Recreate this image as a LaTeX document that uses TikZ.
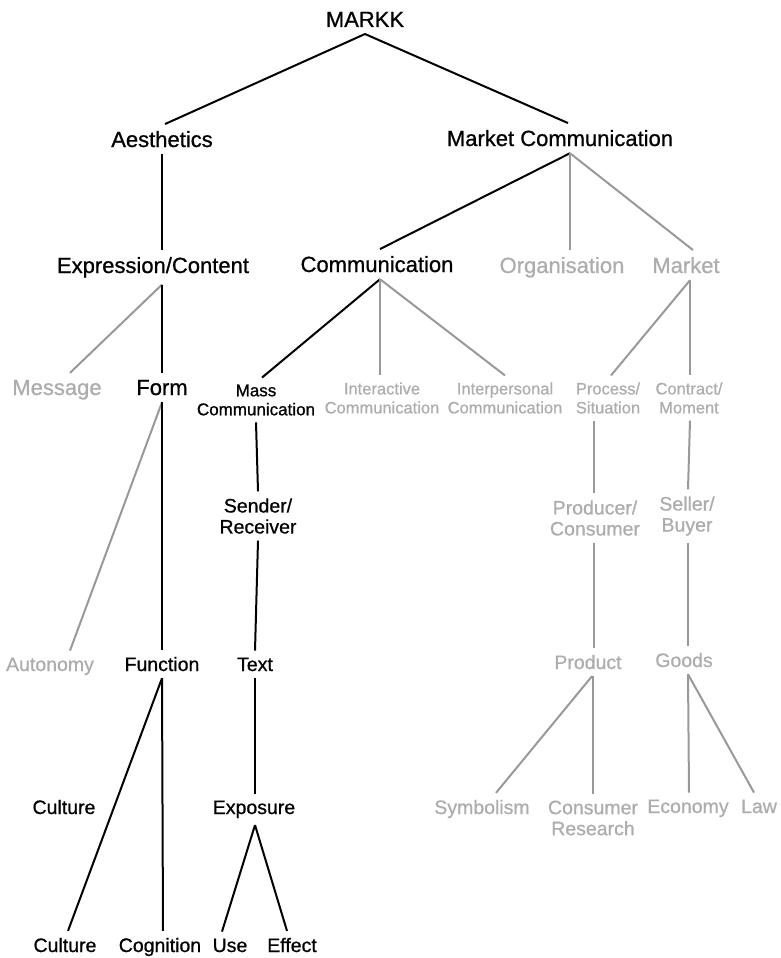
\documentclass[tikz,border=0pt]{standalone}
\usepackage{fontspec}
\setmainfont[FakeBold=0.8]{Liberation Sans}
\definecolor{lgray}{gray}{0.68}
\definecolor{dgray}{gray}{0.6}
\begin{document}
\begin{tikzpicture}[x=1pt,y=-1pt,line width=2pt,
    big/.style={font=\fontsize{22}{24}\selectfont,inner sep=6pt},
    mid/.style={font=\fontsize{19.5}{21}\selectfont,inner sep=6pt,align=center},
    sm/.style={font=\fontsize{16.5}{19}\selectfont,inner sep=6pt,align=center},
    off/.style={text=lgray},
    gl/.style={draw=dgray}]
            \useasboundingbox(0,0)rectangle(780,958);
            \node[big,anchor=base](markk)at(365,27){MARKK};
            \node[big,anchor=base](aest)at(162,147){Aesthetics};
            \node[big,anchor=base](mcomm)at(560,146){Market Communication};
            \node[big,anchor=base](expr)at(153,273){Expression/Content};
            \node[big,anchor=base](comm)at(377,272){Communication};
            \node[big,off,anchor=base](orga)at(562,273){Organisation};
            \node[big,off,anchor=base](mark)at(686,273){Market};
            \node[big,off,anchor=base](msg)at(57,395){Message};
            \node[big,anchor=base](form)at(162,395){Form};
            \node[sm,font=\fontsize{17}{19}\selectfont](mass)at(256,400){Mass\\Communication};
            \node[sm,off](inter)at(382,398){Interactive\\Communication};
            \node[sm,off](interp)at(505,398){Interpersonal\\Communication};
            \node[sm,off](proc)at(608,398){Process/\\Situation};
            \node[sm,off](cont)at(689,398){Contract/\\Moment};
            \node[mid](send)at(258,516){Sender/\\Receiver};
            \node[mid,off](prod)at(595,518){Producer/\\Consumer};
            \node[mid,off](sell)at(687,516){Seller/\\Buyer};
            \node[mid,off,anchor=base](auto)at(50,671){Autonomy};
            \node[mid,anchor=base](func)at(162,671){Function};
            \node[mid,anchor=base](text)at(255,671){Text};
            \node[mid,off,anchor=base](product)at(588,669){Product};
            \node[mid,off,anchor=base](goods)at(684,667){Goods};
            \node[mid,anchor=base](cult)at(64,814){Culture};
            \node[mid,anchor=base](expo)at(254,814){Exposure};
            \node[mid,off,anchor=base](symb)at(482,814){Symbolism};
            \node[mid,off](cres)at(593,818){Consumer\\Research};
            \node[mid,off,anchor=base](econ)at(688,813){Economy};
            \node[mid,off,anchor=base](law)at(759,813){Law};
            \node[mid,anchor=base](cult2)at(65,952){Culture};
            \node[mid,anchor=base](cogn)at(160,952){Cognition};
            \node[mid,anchor=base](use)at(230,952){Use};
            \node[mid,anchor=base](eff)at(292,952){Effect};
            \draw(markk.south)--([xshift=3pt]aest.north);
            \draw(markk.south)--([xshift=8pt]mcomm.north);
            \draw(aest.south)--([xshift=9pt]expr.north);
            \draw([xshift=10pt]mcomm.south)--([xshift=3pt]comm.north);
            \draw[gl]([xshift=10pt]mcomm.south)--([xshift=8pt]orga.north);
            \draw[gl]([xshift=10pt]mcomm.south)--([xshift=7pt]mark.north);
            \draw[gl]([xshift=9pt]expr.south)--([xshift=13pt]msg.north);
            \draw([xshift=9pt]expr.south)--(form.north);
            \draw([xshift=3pt]comm.south)--([xshift=6pt]mass.north);
            \draw[gl]([xshift=3pt]comm.south)--([xshift=-2pt]inter.north);
            \draw[gl]([xshift=3pt]comm.south)--(interp.north);
            \draw[gl]([xshift=4pt]mark.south)--([xshift=3pt]proc.north);
            \draw[gl]([xshift=4pt]mark.south)--([xshift=1pt]cont.north);
            \draw[gl](form.south)--([xshift=20pt]auto.north);
            \draw(form.south)--(func.north);
            \draw(mass.south)--(send.north);
            \draw(send.south)--(text.north);
            \draw[gl]([xshift=-14pt]proc.south)--([xshift=-1pt]prod.north);
            \draw[gl]([xshift=1pt]cont.south)--([xshift=1pt]sell.north);
            \draw[gl]([xshift=-1pt]prod.south)--([xshift=6pt]product.north);
            \draw[gl]([xshift=1pt]sell.south)--([xshift=4pt]goods.north);
            \draw(func.south)--([xshift=3pt]cult2.north);
            \draw(func.south)--([xshift=3pt]cogn.north);
            \draw(text.south)--([xshift=1pt]expo.north);
            \draw([xshift=1pt]expo.south)--([xshift=-8pt]use.north);
            \draw([xshift=1pt]expo.south)--([xshift=-5pt]eff.north);
            \draw[gl]([xshift=4pt]product.south)--([xshift=14pt]symb.north);
            \draw[gl]([xshift=5pt]product.south)--(cres.north);
            \draw[gl]([xshift=4pt]goods.south)--([xshift=1pt]econ.north);
            \draw[gl]([xshift=4pt]goods.south)--([xshift=-5pt]law.north);
        \end{tikzpicture}
\end{document}
